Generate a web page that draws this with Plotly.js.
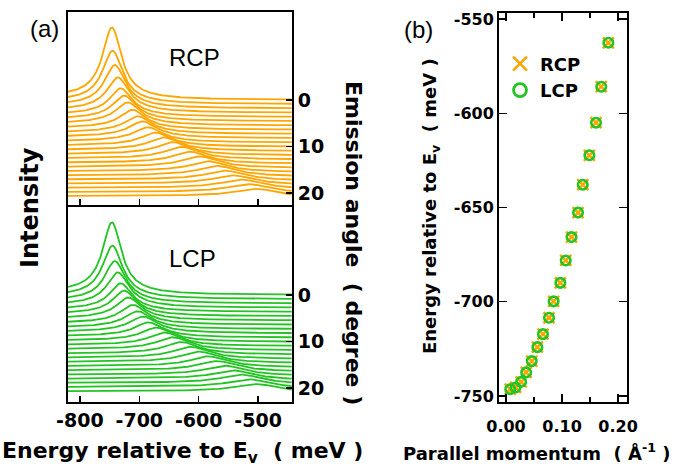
<!DOCTYPE html>
<html><head><meta charset="utf-8">
<script src="https://cdn.plot.ly/plotly-3.0.1.min.js"></script>
<style>html,body{margin:0;padding:0;background:#fff}#chart{width:687px;height:467px}</style>
</head><body><div id="chart"></div>
<script>
// ---------- Panel (a): EDC peak parameters, one entry per curve (top -> bottom) ----------
const curveIdx = [0,1,2,3,4,5,6,7,8,9,10,11,12,13,14,15,16,17,18,19,20,21,22,23];

const peakE_RCP = [-746,-745,-741,-736,-731,-725,-719,-711,-702,-694,-685,-672,-658,-643,-628,-613,-598,-583,-568,-554,-540,-526,-513,-500];
const peakA_RCP = [68,49,39,31,24.5,21.5,19,16.5,14.5,13.5,12.5,11.5,11,10.5,10,9.5,9,8.5,8,7.5,7,7,6.5,6];
const peakW_RCP = [19,20,21,22,22,23,24,25,26,27,28,29,30,31,32,33,34,35,36,37,38,39,40,41];
const tailA_RCP = [3,3,3,3,3,3,3,2.5,2.5,2.5,2,2,2,2,2,2,2,2,2,2,2,2,2,2];
const stepA_RCP = [3,3,2.8,2.6,2.4,2.2,2,1.8,1.6,1.5,1.4,1.3,1.2,1.2,1.2,1.2,1.2,1.2,1.3,1.4,1.5,1.6,1.7,1.8];

const peakE_LCP = [-746,-745,-741,-736,-731,-725,-718,-710,-702,-693,-684,-671,-657,-643,-628,-613,-598,-583,-568,-554,-540,-526,-513,-500];
const peakA_LCP = [68,49,38,31,24.5,21.5,19,16.5,14.5,13.5,12.5,11.5,11,10.5,10,9.5,9,8.5,8,7.5,7,7,6.5,6];
const peakW_LCP = [19,20,21,22,22,23,24,25,26,27,28,29,30,31,32,33,34,35,36,37,38,39,40,41];
const tailA_LCP = [3,3,3,3,3,3,3,2.5,2.5,2.5,2,2,2,2,2,2,2,2,2,2,2,2,2,2];
const stepA_LCP = [3,3,2.8,2.6,2.4,2.2,2,1.8,1.6,1.5,1.4,1.3,1.2,1.2,1.2,1.2,1.2,1.2,1.3,1.4,1.5,1.6,1.7,1.8];

const angleTicks = [0,10,20];
const energyTicks = [-800,-700,-600,-500];
const energyTickText = ['-800','-700','-600','-500'];

// ---------- Panel (b): peak dispersion ----------
const kPar  = [0.0075,0.0170,0.0270,0.0360,0.0460,0.0560,0.0660,0.0768,0.0850,0.0970,0.1066,0.1170,0.1286,0.1370,0.1488,0.1607,0.1700,0.1827];
const E_RCP = [-746.4,-745.5,-742.5,-737.5,-731.5,-724.1,-717.2,-708.5,-699.8,-690.0,-678.1,-665.7,-652.7,-637.9,-622.3,-605.0,-585.9,-562.6];
const E_LCP = [-746.4,-745.5,-742.5,-737.5,-731.5,-724.1,-717.2,-708.5,-699.8,-690.0,-678.1,-665.7,-652.7,-637.9,-622.3,-605.0,-585.9,-562.6];
const kTicks = [0, 0.1, 0.2], kTickText = ['0.00','0.10','0.20'];
const eTicksB = [-750,-700,-650,-600,-550], eTickTextB = ['-750','-700','-650','-600','-550'];

// ---------- styling ----------
const ORANGE = '#ffa500', GREEN = '#22c422';
const angleStep = 0.916;     // axis units between successive curves
const intScale = 1/4.65;     // intensity -> axis units
const W = 687, H = 467;
const px = x => x / W, py = y => 1 - y / H;

const Egrid = [];
for (let e = -820; e <= -443; e += 1.5) Egrid.push(e);

function edc(e0, a, w, c, s) {
  return Egrid.map(e => {
    const d = e - e0;
    return a*w*w/(d*d + w*w) + c*3600/(d*d + 3600) + s*(0.5 - Math.atan(d/25)/Math.PI);
  });
}

const traces = [];
function addWaterfall(E0, A, Wd, C, S, color, xa, ya) {
  curveIdx.forEach((i) => {
    const I = edc(E0[i], A[i], Wd[i], C[i], S[i]);
    traces.push({
      type: 'scatter', mode: 'lines', x: Egrid,
      y: I.map(v => i*angleStep - v*intScale),
      line: {color: color, width: 1.8}, xaxis: xa, yaxis: ya,
      showlegend: false, hoverinfo: 'skip'
    });
  });
}
addWaterfall(peakE_RCP, peakA_RCP, peakW_RCP, tailA_RCP, stepA_RCP, ORANGE, 'x', 'y');
addWaterfall(peakE_LCP, peakA_LCP, peakW_LCP, tailA_LCP, stepA_LCP, GREEN, 'x2', 'y2');

traces.push({type:'scatter', mode:'markers', x:kPar, y:E_RCP, xaxis:'x3', yaxis:'y3',
  marker:{symbol:'x-thin-open', size:11, color:ORANGE, line:{color:ORANGE, width:2.5}}, showlegend:false});
traces.push({type:'scatter', mode:'markers', x:kPar, y:E_LCP, xaxis:'x3', yaxis:'y3',
  marker:{symbol:'circle-open', size:9.5, color:GREEN, line:{color:GREEN, width:2.6}}, showlegend:false});
// legend entries
traces.push({type:'scatter', mode:'markers', x:[null], y:[null], xaxis:'x3', yaxis:'y3', name:'RCP',
  marker:{symbol:'x-thin-open', size:14, color:ORANGE, line:{color:ORANGE, width:2.5}}});
traces.push({type:'scatter', mode:'markers', x:[null], y:[null], xaxis:'x3', yaxis:'y3', name:'LCP',
  marker:{symbol:'circle-open', size:13, color:GREEN, line:{color:GREEN, width:2.8}}});

const tickFontA = {family:'DejaVu Sans', size:19, weight:'bold', color:'#000'};
const tickFontB = {family:'DejaVu Sans', size:16, weight:'bold', color:'#000'};
const baseAx = {showline:true, linewidth:2, linecolor:'#000', mirror:true, showgrid:false, zeroline:false,
  ticks:'inside', ticklen:6, tickwidth:1.5, tickcolor:'#000'};

const layout = {
  width: W, height: H, margin:{l:0,r:0,t:0,b:0}, paper_bgcolor:'#fff', plot_bgcolor:'#fff',
  showlegend: true,
  legend: {x: px(500), y: py(77), xanchor:'left', yanchor:'middle', bgcolor:'rgba(0,0,0,0)',
    font:{family:'DejaVu Sans', size:18, weight:'bold', color:'#000'}, itemwidth:30, tracegroupgap:0},
  xaxis: Object.assign({}, baseAx, {domain:[px(68), px(292)], range:[-820,-443], anchor:'y',
    tickvals: energyTicks, showticklabels:false}),
  yaxis: Object.assign({}, baseAx, {domain:[py(205), py(12)], range:[22.6,-18.9], anchor:'x', side:'right',
    tickvals: angleTicks, tickfont: tickFontA}),
  xaxis2: Object.assign({}, baseAx, {domain:[px(68), px(292)], range:[-820,-443], anchor:'y2',
    tickvals: energyTicks, ticktext: energyTickText, tickfont: tickFontA}),
  yaxis2: Object.assign({}, baseAx, {domain:[py(402), py(207)], range:[23.0,-18.9], anchor:'x2', side:'right',
    tickvals: angleTicks, tickfont: tickFontA}),
  xaxis3: Object.assign({}, baseAx, {domain:[px(499), px(627)], range:[-0.0125,0.216], anchor:'y3',
    tickvals: kTicks, ticktext: kTickText, ticklen:8, mirror:'ticks', tickfont: tickFontB, ticklabelstandoff: 9,
    minor:{tickvals:[0.05,0.15], ticks:'inside', ticklen:5, tickwidth:1.5, tickcolor:'#000'}}),
  yaxis3: Object.assign({}, baseAx, {domain:[py(402), py(13)], range:[-753.2,-546.8], anchor:'x3',
    tickvals: eTicksB, ticktext: eTickTextB, ticklen:8, mirror:'ticks', tickfont: tickFontB}),
  annotations: [
    {text:'(a)', x:px(44), y:py(28), font:{family:'Liberation Sans', size:24, color:'#000'}},
    {text:'(b)', x:px(418), y:py(29), font:{family:'Liberation Sans', size:24, color:'#000'}},
    {text:'RCP', x:px(194), y:py(57), font:{family:'Liberation Sans', size:24, color:'#000'}},
    {text:'LCP', x:px(192), y:py(258), font:{family:'Liberation Sans', size:24, color:'#000'}},
    {text:'Intensity', x:px(30), y:py(208), textangle:-90, font:{family:'DejaVu Sans', size:24, weight:'bold', color:'#000'}},
    {text:'Emission angle\u00a0 ( degree )', x:px(354), y:py(243), textangle:90, font:{family:'DejaVu Sans', size:22, weight:'bold', color:'#000'}},
    {text:'Energy relative to E<sub>v</sub>\u00a0 ( meV )', x:px(182), y:py(452), font:{family:'DejaVu Sans', size:22, weight:'bold', color:'#000'}},
    {text:'Parallel momentum\u00a0 ( Å<sup>-1</sup> )', x:px(536), y:py(452), font:{family:'DejaVu Sans', size:18, weight:'bold', color:'#000'}},
    {text:'Energy relative to E<sub>v</sub>\u00a0 ( meV )', x:px(431), y:py(206), textangle:-90, font:{family:'DejaVu Sans', size:18, weight:'bold', color:'#000'}}
  ].map(a => Object.assign({xref:'paper', yref:'paper', showarrow:false, xanchor:'center', yanchor:'middle'}, a))
};

Plotly.newPlot('chart', traces, layout, {staticPlot:true, displayModeBar:false});
</script>
</body></html>
